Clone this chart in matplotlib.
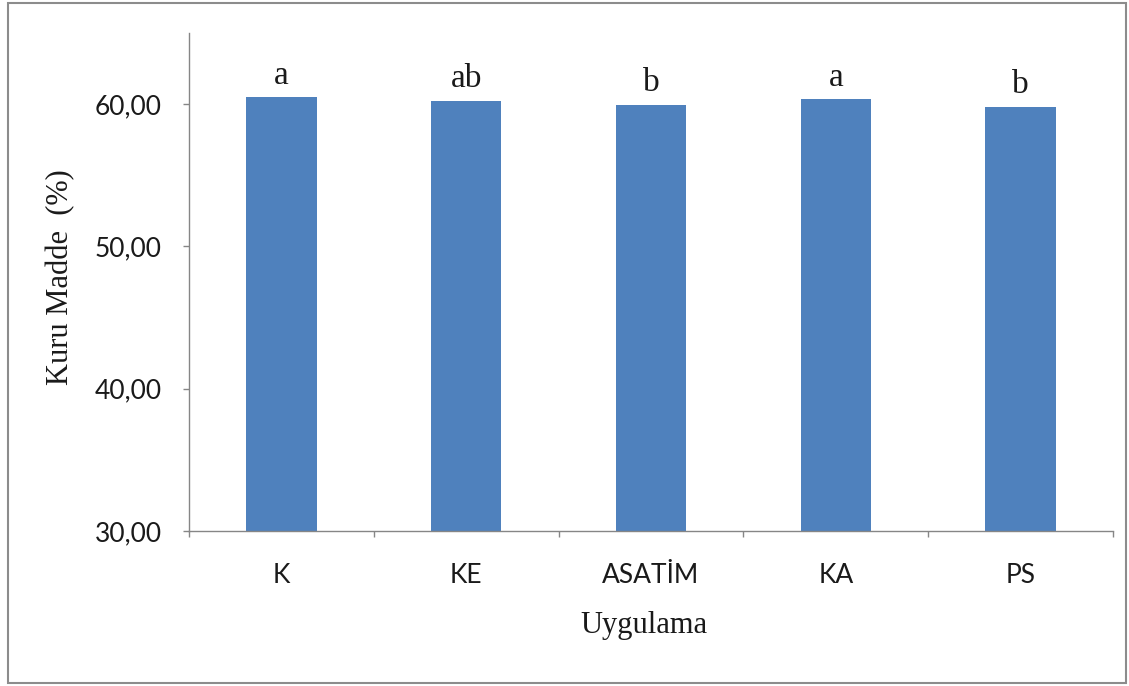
import matplotlib
matplotlib.use("Agg")
import matplotlib.pyplot as plt
from matplotlib.patches import Rectangle
from matplotlib.ticker import FixedLocator, FuncFormatter

categories = ["K", "KE", "ASATİM", "KA", "PS"]
values = [60.47, 60.21, 59.93, 60.33, 59.79]
letters = ["a", "ab", "b", "a", "b"]
yticks = [30, 40, 50, 60]

W, H = 1129, 686
fig = plt.figure(figsize=(W / 100, H / 100), dpi=100)
fig.patch.set_facecolor("white")
fig.patches.append(Rectangle((8 / W, 3 / H), 1118 / W, 680 / H, transform=fig.transFigure,
                             fill=False, edgecolor="#8c8c8c", linewidth=1.5))

ax = fig.add_axes([189 / W, 1 - 531 / H, (1113 - 189) / W, (531 - 33) / H])
x = list(range(len(categories)))
ax.bar(x, values, width=0.38, color="#4F81BD", zorder=2)
ax.set_xlim(-0.5, len(categories) - 0.5)
ax.set_ylim(30, 65)

grey = "#868686"
for s in ["top", "right"]:
    ax.spines[s].set_visible(False)
for s in ["left", "bottom"]:
    ax.spines[s].set_color(grey)
    ax.spines[s].set_linewidth(1.0)

ax.yaxis.set_major_locator(FixedLocator(yticks))
ax.yaxis.set_major_formatter(FuncFormatter(lambda v, p: f"{v:.2f}".replace(".", ",")))
ax.set_xticks(x)
ax.set_xticklabels(categories)
ax.xaxis.set_minor_locator(FixedLocator([i - 0.5 for i in range(len(categories) + 1)]))
ax.tick_params(axis="x", which="major", length=0, pad=23, labelsize=19, labelcolor="#1a1a1a")
ax.tick_params(axis="x", which="minor", length=4.5, color=grey, width=1)
ax.tick_params(axis="y", length=4.5, color=grey, width=1, pad=15, labelsize=19, labelcolor="#1a1a1a")
for lab in ax.get_xticklabels() + ax.get_yticklabels():
    lab.set_family("Lato")

fig.text(644 / W, 1 - 633 / H, "Uygulama", family="Liberation Serif", fontsize=22,
         color="#1a1a1a", ha="center", va="baseline")
fig.text(61 / W, 1 - 277 / H, "Kuru Madde  (%)", family="Liberation Serif", fontsize=22,
         color="#1a1a1a", ha="center", va="center", rotation=90)

for xi, v, t in zip(x, values, letters):
    ax.annotate(t, (xi, v), xytext=(0, 5), textcoords="offset points", ha="center", va="bottom",
                family="Liberation Serif", fontsize=24, color="#1a1a1a")

fig.savefig("out.png", dpi=100)
